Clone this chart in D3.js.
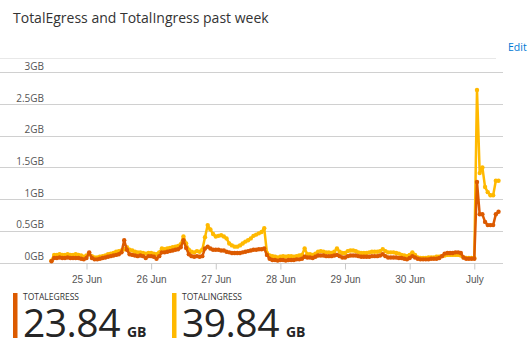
<!DOCTYPE html>
<html>
<head>
<meta charset="utf-8">
<script src="https://cdn.jsdelivr.net/npm/d3@7"></script>
<style>
  body { margin: 0; background: #fff; }
  svg { font-family: "Segoe UI", "Open Sans", "Noto Sans", sans-serif; }
</style>
</head>
<body>
<svg width="531" height="351"></svg>
<script>
// hourly samples starting 24 Jun 11:00
var startTime = new Date(2019, 5, 24, 11);
var yTicks = [0, 0.5, 1, 1.5, 2, 2.5, 3];

// GB per hour, one row per day
var ingress = [
  0.03, 0.12, 0.12, 0.13, 0.12, 0.12, 0.13, 0.12, 0.12, 0.13, 0.12, 0.11, 0.09,
  0.11, 0.13, 0.10, 0.08, 0.08, 0.09, 0.10, 0.11, 0.13, 0.14, 0.15, 0.17, 0.18, 0.19, 0.21, 0.24, 0.20, 0.19, 0.17, 0.16, 0.16, 0.15, 0.14, 0.15,
  0.15, 0.14, 0.13, 0.16, 0.22, 0.21, 0.22, 0.23, 0.24, 0.25, 0.26, 0.29, 0.41, 0.30, 0.20, 0.17, 0.16, 0.18, 0.17, 0.20, 0.40, 0.59, 0.52, 0.45,
  0.41, 0.42, 0.43, 0.41, 0.38, 0.30, 0.27, 0.25, 0.25, 0.27, 0.30, 0.33, 0.35, 0.38, 0.42, 0.44, 0.46, 0.48, 0.54, 0.15, 0.11, 0.10, 0.09, 0.08,
  0.09, 0.10, 0.09, 0.10, 0.10, 0.09, 0.10, 0.11, 0.12, 0.22, 0.13, 0.13, 0.12, 0.14, 0.17, 0.18, 0.17, 0.16, 0.16, 0.15, 0.17, 0.22, 0.17, 0.15,
  0.15, 0.18, 0.19, 0.19, 0.18, 0.16, 0.15, 0.15, 0.15, 0.16, 0.17, 0.17, 0.17, 0.18, 0.21, 0.18, 0.16, 0.16, 0.16, 0.15, 0.14, 0.12, 0.11, 0.10,
  0.12, 0.16, 0.12, 0.08, 0.07, 0.07, 0.07, 0.08, 0.08, 0.08, 0.09, 0.09, 0.10, 0.11, 0.12, 0.12, 0.12, 0.12, 0.12, 0.11, 0.08, 0.07, 0.07, 0.07,
  0.07, 2.72, 1.41, 1.50, 1.19, 1.11, 1.06, 1.06, 1.29, 1.29
];
var egress = [
  0.02, 0.07, 0.07, 0.08, 0.07, 0.07, 0.08, 0.07, 0.07, 0.07, 0.07, 0.06, 0.05,
  0.07, 0.16, 0.07, 0.05, 0.05, 0.06, 0.07, 0.08, 0.09, 0.10, 0.11, 0.12, 0.13, 0.16, 0.35, 0.20, 0.13, 0.12, 0.11, 0.10, 0.11, 0.10, 0.07, 0.10,
  0.10, 0.09, 0.06, 0.10, 0.16, 0.16, 0.17, 0.18, 0.19, 0.20, 0.21, 0.24, 0.35, 0.23, 0.13, 0.10, 0.09, 0.10, 0.09, 0.10, 0.22, 0.25, 0.22, 0.20,
  0.20, 0.20, 0.19, 0.19, 0.17, 0.16, 0.15, 0.15, 0.15, 0.15, 0.16, 0.17, 0.18, 0.19, 0.20, 0.20, 0.21, 0.21, 0.22, 0.12, 0.06, 0.04, 0.04, 0.03,
  0.04, 0.04, 0.03, 0.04, 0.04, 0.04, 0.05, 0.05, 0.06, 0.09, 0.08, 0.08, 0.07, 0.09, 0.11, 0.11, 0.11, 0.10, 0.10, 0.10, 0.11, 0.12, 0.10, 0.08,
  0.08, 0.10, 0.11, 0.11, 0.11, 0.10, 0.09, 0.09, 0.09, 0.09, 0.10, 0.10, 0.10, 0.11, 0.13, 0.10, 0.08, 0.08, 0.08, 0.08, 0.07, 0.07, 0.06, 0.05,
  0.07, 0.10, 0.08, 0.06, 0.05, 0.05, 0.05, 0.05, 0.06, 0.06, 0.06, 0.07, 0.10, 0.14, 0.15, 0.15, 0.15, 0.16, 0.16, 0.15, 0.08, 0.06, 0.06, 0.06,
  0.06, 1.27, 0.76, 0.76, 0.64, 0.59, 0.59, 0.59, 0.76, 0.80
];

var seriesNames = ["TOTALEGRESS", "TOTALINGRESS"];
var totals = ["23.84", "39.84"];
var totalUnit = "GB";
var colors = ["#dc5a00", "#ffb900"];

var svg = d3.select("svg");

svg.append("text")
  .attr("x", 13).attr("y", 23)
  .attr("font-size", 14).attr("fill", "#333")
  .text("TotalEgress and TotalIngress past week");

svg.append("line")
  .attr("x1", 0).attr("x2", 496).attr("y1", 58.5).attr("y2", 58.5)
  .attr("stroke", "#e8e8e8");

svg.append("text")
  .attr("x", 508).attr("y", 51)
  .attr("font-size", 10.5).attr("fill", "#0078d4")
  .text("Edit");

var x = d3.scaleTime()
  .domain([new Date(2019, 5, 25), new Date(2019, 6, 1)])
  .range([86.5, 474.3]);
var y = d3.scaleLinear().domain([0, 3]).range([262.5, 72.3]);

var g = svg.append("g");

// grid + y labels
g.selectAll(".grid").data(yTicks).enter().append("line")
  .attr("x1", 0).attr("x2", 503)
  .attr("y1", d => Math.round(y(d)) + 0.5).attr("y2", d => Math.round(y(d)) + 0.5)
  .attr("stroke", "#d0d0d0");

g.selectAll(".ylab").data(yTicks).enter().append("text")
  .attr("x", 44).attr("y", d => y(d) - 2.5)
  .attr("text-anchor", "end").attr("font-size", 10).attr("fill", "#555")
  .text(d => d + "GB");

// x axis
var fmt = d3.timeFormat("%d %b");
var xAxis = d3.axisBottom(x)
  .ticks(d3.timeDay.every(1))
  .tickSize(6)
  .tickFormat(d => d.getDate() === 1 ? "July" : fmt(d));

var ax = g.append("g")
  .attr("transform", "translate(0," + (Math.round(y(0)) + 0.5) + ")")
  .call(xAxis);
ax.select(".domain").remove();
ax.selectAll(".tick line").attr("stroke", "#c8c8c8");
ax.selectAll(".tick text")
  .attr("font-size", 10).attr("fill", "#555").attr("dy", "1em")
  .attr("font-family", null);

var data = [egress, ingress].map(vals => vals.map((v, i) => ({
  t: d3.timeHour.offset(startTime, i), v: v
})));

var line = d3.line().x(d => x(d.t)).y(d => y(d.v));

var order = [1, 0];
order.forEach(function(k) {
  var s = g.append("g");
  s.append("path")
    .datum(data[k])
    .attr("fill", "none")
    .attr("stroke", colors[k])
    .attr("stroke-width", 2.5)
    .attr("stroke-linejoin", "round")
    .attr("d", line);
  s.selectAll("circle").data(data[k]).enter().append("circle")
    .attr("cx", d => x(d.t)).attr("cy", d => y(d.v))
    .attr("r", 2.2).attr("fill", colors[k]);
});

// legend
var legX = [13, 172];
seriesNames.forEach(function(name, i) {
  var lg = svg.append("g").attr("transform", "translate(" + legX[i] + ",0)");
  lg.append("rect").attr("x", 0).attr("y", 293).attr("width", 4.5).attr("height", 45)
    .attr("fill", colors[i]);
  lg.append("text").attr("x", 10).attr("y", 300)
    .attr("font-size", 8.5).attr("fill", "#333").text(name);
  var big = lg.append("text").attr("x", 10).attr("y", 337)
    .attr("font-size", 39).attr("letter-spacing", -0.5)
    .attr("fill", "#252525").text(totals[i]);
  var w = big.node().getComputedTextLength();
  lg.append("text").attr("x", 10 + w + 7).attr("y", 337)
    .attr("font-size", 14).attr("font-weight", "bold").attr("fill", "#252525")
    .text(totalUnit);
});
</script>
</body>
</html>
